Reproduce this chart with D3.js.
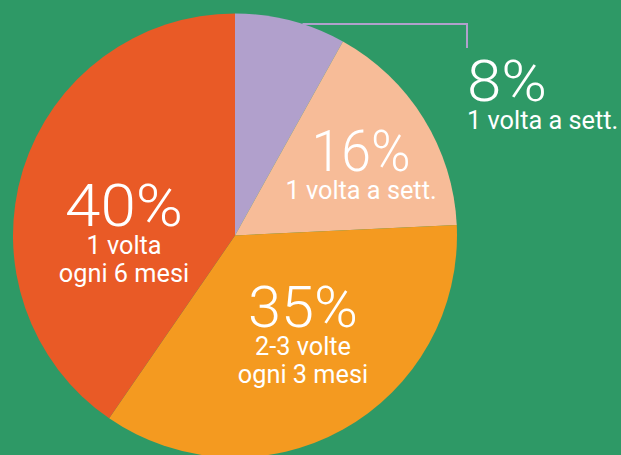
<!DOCTYPE html>
<html>
<head>
<meta charset="utf-8">
<script src="https://cdn.jsdelivr.net/npm/d3@7"></script>
<style>
    html, body { margin: 0; padding: 0; background: #2e9966; }
    svg { display: block; }
    text { font-family: Roboto, "Noto Sans", sans-serif; fill: #ffffff; }
</style>
</head>
<body>
<div id="pieChart"></div>
<script>
// chart data
var percents = [8, 16, 35, 40];
var percentLabels = ["8%", "16%", "35%", "40%"];
var frequencyLabels = [
    ["1 volta a sett."],
    ["1 volta a sett."],
    ["2-3 volte", "ogni 3 mesi"],
    ["1 volta", "ogni 6 mesi"]
];
var sliceColors = ["#b1a0cc", "#f7bc98", "#f49a20", "#e95a26"];

var width = 621, height = 455;
var cx = 235, cy = 235.5, radius = 222;

// where each label block sits (percent baseline, anchor, font size, width)
var labelSpots = [
    { x: 467, y: 101, anchor: "start", size: 57, len: 80 },
    { x: 361, y: 171, anchor: "middle", size: 57, len: 99 },
    { x: 303, y: 327, anchor: "middle", size: 58, len: 110 },
    { x: 124, y: 226, anchor: "middle", size: 59, len: 118 }
];

/**
 * Appends the svg with the green background
 */
function appendSVG(id) {
    var svg = d3.select("#" + id)
        .append("svg")
        .attr("width", width)
        .attr("height", height);

    svg.append("rect")
        .attr("width", width)
        .attr("height", height)
        .attr("fill", "#2e9966");

    return svg;
}

function drawPie(svg) {
    var pie = d3.pie().sort(null).value(function (d) { return d; });
    var arc = d3.arc().innerRadius(0).outerRadius(radius);

    var g = svg.append("g")
        .attr("transform", "translate(" + cx + "," + cy + ")");

    g.selectAll("path")
        .data(pie(percents))
        .enter()
        .append("path")
        .attr("d", arc)
        .attr("fill", function (d, i) { return sliceColors[i]; });
}

function drawLeader(svg) {
    // leader from the small slice out to its label
    var y0 = 24;
    var xEdge = cx + Math.sqrt(radius * radius - (cy - y0) * (cy - y0));
    svg.append("path")
        .attr("d", "M" + xEdge + "," + y0 + "H467V48")
        .attr("fill", "none")
        .attr("stroke", sliceColors[0])
        .attr("stroke-width", 2);
}

function drawLabels(svg) {
    percentLabels.forEach(function (label, i) {
        var spot = labelSpots[i];
        svg.append("text")
            .attr("x", spot.x)
            .attr("y", spot.y)
            .attr("text-anchor", spot.anchor)
            .attr("textLength", spot.len)
            .attr("lengthAdjust", "spacingAndGlyphs")
            .style("font-size", spot.size + "px")
            .style("font-weight", 300)
            .text(label);

        frequencyLabels[i].forEach(function (line, j) {
            svg.append("text")
                .attr("x", spot.x)
                .attr("y", spot.y + 28 + j * 28)
                .attr("text-anchor", spot.anchor)
                .style("font-size", "25.3px")
                .text(line);
        });
    });
}

var svg = appendSVG("pieChart");
drawPie(svg);
drawLeader(svg);
drawLabels(svg);
</script>
</body>
</html>
